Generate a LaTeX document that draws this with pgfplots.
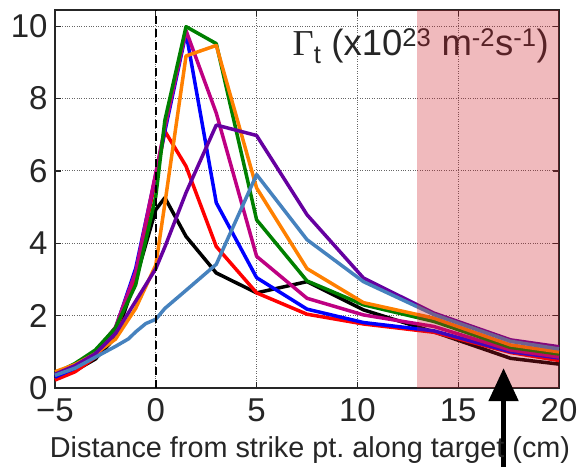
\documentclass[border=0pt]{standalone}
\usepackage{fontspec}
\setmainfont{Liberation Sans}
\newfontfamily\seriffont{Liberation Serif}
\usepackage{pgfplots}
\pgfplotsset{compat=1.18}
\usetikzlibrary{arrows.meta}
\definecolor{cblue}{RGB}{0,0,255}
\definecolor{cred}{RGB}{255,0,0}
\definecolor{cgreen}{RGB}{0,128,0}
\definecolor{corange}{RGB}{255,128,0}
\definecolor{cmag}{RGB}{190,0,130}
\definecolor{cpurp}{RGB}{102,0,160}
\definecolor{csteel}{RGB}{70,130,190}
\definecolor{cshade}{RGB}{204,26,38}
\begin{document}
\begin{tikzpicture}
\begin{axis}[
  name=ax,
  scale only axis,
  width=504pt, height=378pt,
  xmin=-5, xmax=20, ymin=0, ymax=10.45,
  xtick={-5,0,5,10,15,20},
  xticklabels={−5,0,5,10,15,20},
  ytick={0,2,4,6,8,10},
  yticklabels={0,2,4,6,8,10},
  tick label style={font=\fontsize{33}{33}\selectfont, text=black!85},
  xticklabel style={anchor=base, yshift=-34pt},
  yticklabel style={anchor=east, xshift=-4pt},
  xlabel={Distance from strike pt.\ along target (cm)},
  xlabel style={font=\fontsize{28.8}{29}\selectfont, text=black!85, at={(rel axis cs:0.5,0)}, anchor=base, xshift=3pt, yshift=-70pt},
  grid=major,
  major grid style={dotted, black!60, line width=1pt},
  axis line style={line width=1.5pt, black!85},
  major tick length=6pt,
  tick style={line width=1.2pt, black!85},
  clip=false,
  every axis plot/.append style={line width=3.5pt, line join=round},
]
\addplot[black] coordinates {(-5,0.3) (-4,0.48) (-3,0.8) (-2,1.4) (-1,3.0) (0,4.93) (0.45,5.26) (1.5,4.19) (3,3.18) (5,2.63) (7.5,2.94) (10.3,2.16) (13.8,1.55) (17.6,0.82) (20,0.66)};
\addplot[cred] coordinates {(-5,0.22) (-4,0.45) (-3,0.85) (-2,1.55) (-1,3.1) (0,5.8) (0.45,7.1) (1.5,6.13) (3,3.91) (5,2.63) (7.5,2.04) (10.3,1.77) (13.8,1.54) (17.6,0.98) (20,0.76)};
\addplot[cblue] coordinates {(-5,0.3) (-4,0.55) (-3,0.95) (-2,1.65) (-1,3.3) (0,5.9) (0.45,7.1) (1.5,9.82) (3,5.12) (5,3.05) (7.5,2.18) (10.3,1.81) (13.8,1.58) (17.6,1.0) (20,0.83)};
\addplot[cmag] coordinates {(-5,0.35) (-4,0.58) (-3,0.98) (-2,1.68) (-1,3.2) (0,5.95) (0.45,7.2) (1.5,9.88) (3,7.6) (5,3.64) (7.5,2.48) (10.3,2.02) (13.8,1.7) (17.6,1.05) (20,0.86)};
\addplot[cgreen] coordinates {(-5,0.4) (-4,0.68) (-3,1.05) (-2,1.66) (-1,2.85) (0,5.3) (0.45,7.4) (1.5,9.99) (3,9.52) (5,4.65) (7.5,2.96) (10.3,2.3) (13.8,1.84) (17.6,1.12) (20,0.94)};
\addplot[corange] coordinates {(-5,0.45) (-4,0.65) (-3,0.95) (-2,1.35) (-1,2.2) (0,3.4) (0.45,5.1) (1.5,9.18) (3,9.47) (5,5.53) (7.5,3.3) (10.3,2.36) (13.8,1.93) (17.6,1.19) (20,1.0)};
\addplot[cpurp] coordinates {(-5,0.38) (-4,0.62) (-3,0.95) (-2,1.5) (-1,2.4) (0,3.3) (0.45,3.9) (1.5,5.4) (3,7.27) (5,6.98) (7.5,4.79) (10.3,3.04) (13.8,2.07) (17.6,1.33) (20,1.14)};
\addplot[csteel] coordinates {(-5,0.35) (-4,0.55) (-3,0.85) (-2,1.15) (-1.35,1.36) (-1,1.55) (-0.5,1.78) (0,1.9) (0.45,2.2) (1.5,2.7) (3,3.42) (5,5.9) (7.5,4.1) (10.3,2.94) (13.8,2.03) (17.6,1.29) (20,1.08)};
\addplot[black, line width=2pt, dash pattern=on 8pt off 5pt] coordinates {(0,0) (0,10.45)};
\node[anchor=north east, font=\fontsize{36.5}{37}\selectfont, text=black!85, inner sep=0pt] at (rel axis cs:1,1) [xshift=-10pt, yshift=-18pt]
  {{\seriffont Γ}\textsubscript{t} (x10\textsuperscript{23} m\textsuperscript{-2}s\textsuperscript{-1})};
\fill[cshade, opacity=0.3] (axis cs:12.95,0) rectangle (axis cs:20,10.45);
\draw[black, line width=5pt, -{Triangle[length=33pt, width=29pt]}] (axis cs:17.25,-2.2) -- (axis cs:17.25,0.55);
\end{axis}
\pgfresetboundingbox
\path ([xshift=-55pt,yshift=-79pt]ax.south west) rectangle ([xshift=21pt,yshift=10pt]ax.north east);
\end{tikzpicture}
\end{document}
